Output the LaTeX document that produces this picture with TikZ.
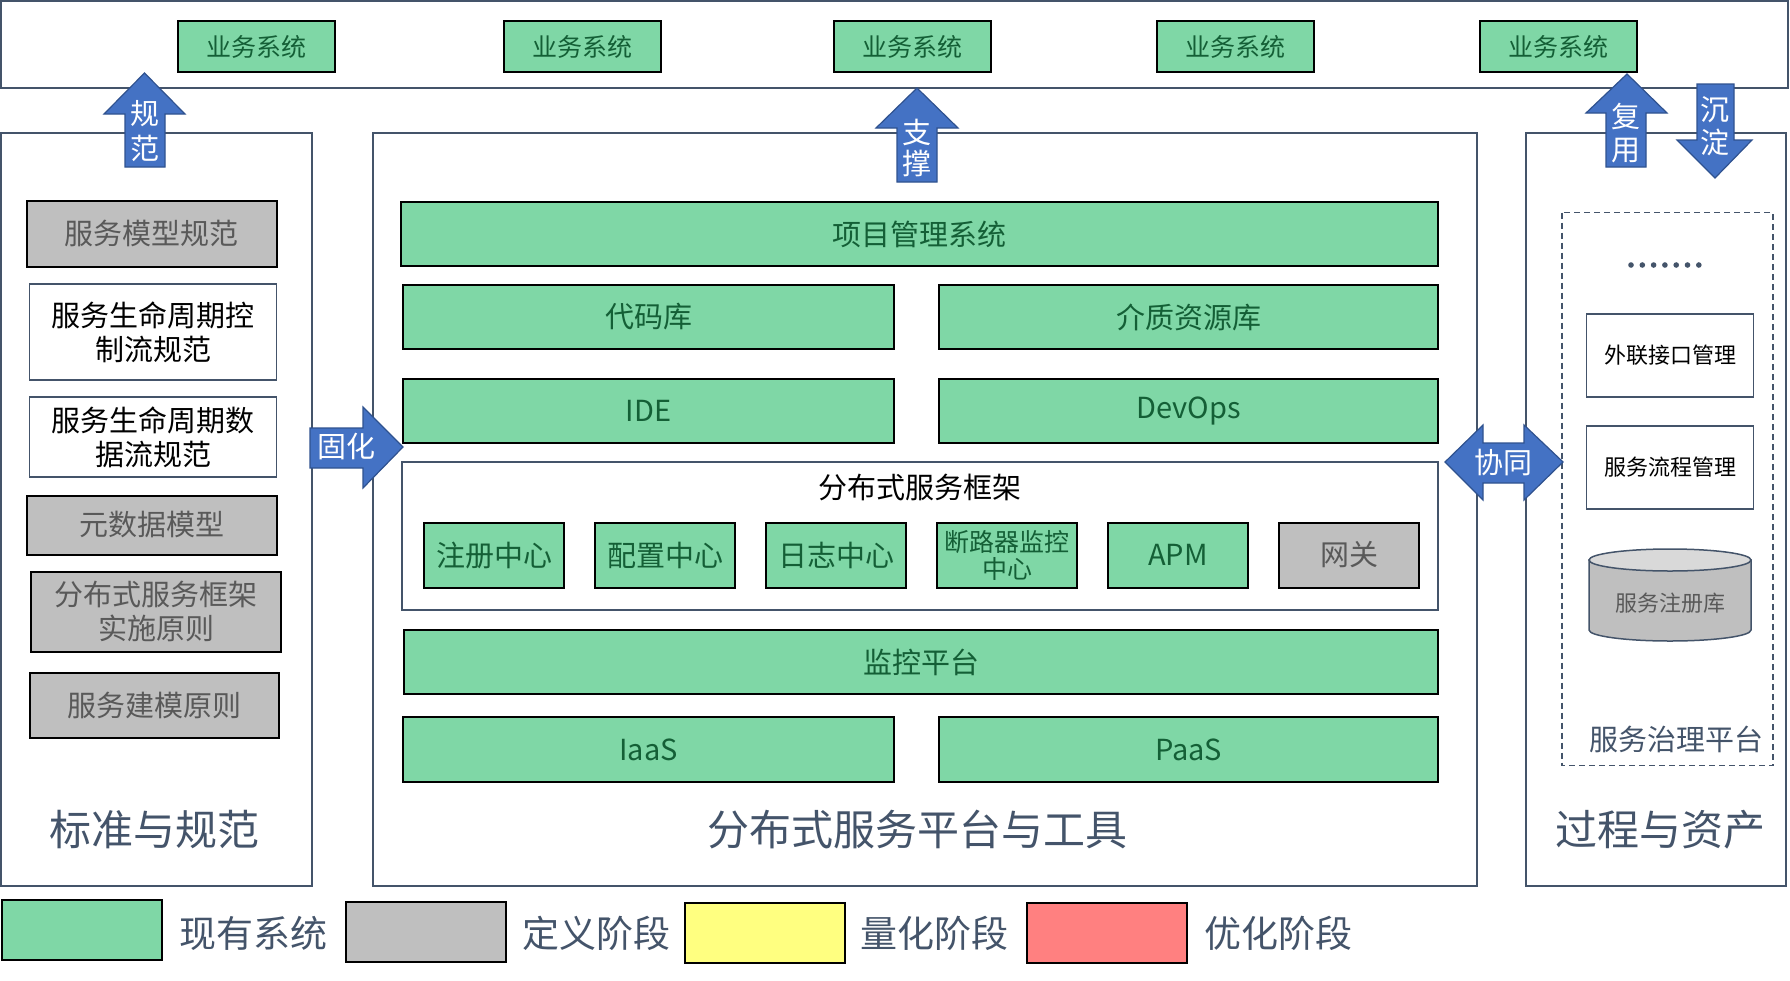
\documentclass[tikz,border=0pt]{standalone}
\usepackage{fontspec}
\setmainfont{Noto Sans CJK SC}

\definecolor{sysgreen}{HTML}{7FD7A6}
\definecolor{sysgreentext}{HTML}{145F36}
\definecolor{defgray}{HTML}{BFBFBF}
\definecolor{defgraytext}{HTML}{595959}
\definecolor{slate}{HTML}{44546A}
\definecolor{arrowblue}{HTML}{4472C4}
\definecolor{arrowedge}{HTML}{2F528F}
\definecolor{quantyellow}{HTML}{FFFF80}
\definecolor{optred}{HTML}{FF8080}
\definecolor{cyltop}{HTML}{D9D9D9}

\tikzset{
  sysbox/.style={draw=black, line width=2pt, fill=sysgreen, text=sysgreentext, inner sep=0pt, align=center, font=\fontsize{29}{34}\selectfont},
  defbox/.style={draw=black, line width=2pt, fill=defgray, text=defgraytext, inner sep=0pt, align=center, font=\fontsize{29}{34}\selectfont},
  specbox/.style={draw=slate, line width=1.5pt, fill=white, text=black, inner sep=0pt, align=center, font=\fontsize{29}{34}\selectfont},
  panel/.style={draw=slate, line width=2pt},
  paneltitle/.style={text=slate, font=\fontsize{42}{50}\selectfont},
  blockarrow/.style={fill=arrowblue, draw=arrowedge, line width=1.2pt},
  arrowtext/.style={text=white, align=center, inner sep=0pt, font=\fontsize{29}{34}\selectfont},
  legendbox/.style={draw=black, line width=2pt, minimum width=160pt, minimum height=60pt},
  legendtext/.style={text=slate, font=\fontsize{37}{44}\selectfont},
}

\begin{document}
\begin{tikzpicture}[x=1pt,y=-1pt]
  \useasboundingbox (0,0) rectangle (1790,980);

  % frames
  \draw[panel] (1,1) rectangle (1788,88);
  \draw[panel] (1,133) rectangle (312,886);
  \draw[panel] (373,133) rectangle (1477,886);
  \draw[panel] (1526,133) rectangle (1786,886);

  % business systems on top
  \foreach \bx [count=\i] in {256.5,582,912,1235,1558}
    \node[sysbox, minimum width=157pt, minimum height=51pt, font=\fontsize{25}{30}\selectfont] (biz\i) at (\bx,46.5) {业务系统};

  % standards
  \node[defbox, minimum width=250pt, minimum height=66pt] (modelspec) at (151.7,233.6) {服务模型规范};
  \node[specbox, minimum width=247pt, minimum height=96pt] (ctrlspec) at (153.2,331.8) {服务生命周期控\\制流规范};
  \node[specbox, minimum width=247pt, minimum height=80pt] (dataspec) at (153.2,437) {服务生命周期数\\据流规范};
  \node[defbox, minimum width=250pt, minimum height=59pt] (metamodel) at (152,525) {元数据模型};
  \node[defbox, minimum width=250pt, minimum height=80pt] (frameprinc) at (156,611.6) {分布式服务框架\\实施原则};
  \node[defbox, minimum width=249pt, minimum height=65pt] (modelprinc) at (154.5,705) {服务建模原则};
  \node[paneltitle] (stdtitle) at (154,830) {标准与规范};

  % platform and tools
  \node[sysbox, minimum width=1037pt, minimum height=64pt] (projmgmt) at (919.5,234) {项目管理系统};
  \node[sysbox, minimum width=491pt, minimum height=64pt] (coderepo) at (648.5,317) {代码库};
  \node[sysbox, minimum width=499pt, minimum height=64pt] (mediarepo) at (1188.5,317) {介质资源库};
  \node[sysbox, minimum width=491pt, minimum height=64pt] (ide) at (648.5,411) {IDE};
  \node[sysbox, minimum width=499pt, minimum height=64pt] (devops) at (1188.5,411) {DevOps};

  \draw[panel, line width=1.5pt] (402,462) rectangle (1438,610);
  \node[text=black, font=\fontsize{29}{34}\selectfont] (fwtitle) at (920,487) {分布式服务框架};
  \node[sysbox, minimum width=140pt, minimum height=65pt] (registry) at (494,555) {注册中心};
  \node[sysbox, minimum width=140pt, minimum height=65pt] (config) at (665,555) {配置中心};
  \node[sysbox, minimum width=140pt, minimum height=65pt] (logging) at (836,555) {日志中心};
  \node[sysbox, minimum width=140pt, minimum height=65pt, font=\fontsize{25}{27}\selectfont] (breaker) at (1007,555) {断路器监控\\中心};
  \node[sysbox, minimum width=140pt, minimum height=65pt] (apm) at (1178,555) {APM};
  \node[defbox, minimum width=140pt, minimum height=65pt] (gateway) at (1349,555) {网关};

  \node[sysbox, minimum width=1034pt, minimum height=64pt] (monitor) at (921,662) {监控平台};
  \node[sysbox, minimum width=491pt, minimum height=65pt] (iaas) at (648.5,749.5) {IaaS};
  \node[sysbox, minimum width=499pt, minimum height=65pt] (paas) at (1188.5,749.5) {PaaS};
  \node[paneltitle] (tooltitle) at (917.5,830) {分布式服务平台与工具};

  % process and assets
  \draw[slate, line width=1.5pt, dash pattern=on 6pt off 4pt] (1562,212.5) rectangle (1773,765.5);
  \foreach \k in {0,...,6}
    \fill[slate] (1631+11.3*\k,265) circle (2.8pt);
  \node[specbox, minimum width=167pt, minimum height=83pt, font=\fontsize{22}{26}\selectfont] (extif) at (1670,355.5) {外联接口管理};
  \node[specbox, minimum width=167pt, minimum height=83pt, font=\fontsize{22}{26}\selectfont] (flowmgmt) at (1670,467.5) {服务流程管理};
  \filldraw[fill=defgray, draw=slate, line width=1.5pt] (1589,560) -- (1589,630) arc[start angle=180, end angle=0, x radius=81, y radius=11] -- (1751,560) -- cycle;
  \filldraw[fill=cyltop, draw=slate, line width=1.5pt] (1670,560) ellipse[x radius=81, y radius=11];
  \node[text=defgraytext, font=\fontsize{22}{26}\selectfont] (svcreg) at (1670,603) {服务注册库};
  \node[text=slate, font=\fontsize{29}{34}\selectfont] (govtitle) at (1676,739) {服务治理平台};
  \node[paneltitle] (proctitle) at (1660,830) {过程与资产};

  % block arrows
  \draw[blockarrow] (125,167) -- (125,114) -- (104,114) -- (144.5,73) -- (185,114) -- (165,114) -- (165,167) -- cycle;
  \node[arrowtext, font=\fontsize{29}{35}\selectfont] (guifan) at (145,131) {规\\范};
  \draw[blockarrow] (897,182) -- (897,128) -- (876,128) -- (917,88) -- (958,128) -- (937,128) -- (937,182) -- cycle;
  \node[arrowtext, font=\fontsize{29}{31}\selectfont] (zhicheng) at (917,148) {支\\撑};
  \draw[blockarrow] (1606,167) -- (1606,113) -- (1586,113) -- (1627,74) -- (1667,113) -- (1646,113) -- (1646,167) -- cycle;
  \node[arrowtext, font=\fontsize{29}{33}\selectfont] (fuyong) at (1626,133.5) {复\\用};
  \draw[blockarrow] (1697,84) -- (1734,84) -- (1734,140) -- (1752,140) -- (1715,178) -- (1677,140) -- (1697,140) -- cycle;
  \node[arrowtext, font=\fontsize{29}{33}\selectfont] (chendian) at (1715,126.5) {沉\\淀};
  \draw[blockarrow] (310,428) -- (363,428) -- (363,407) -- (403,447) -- (363,488) -- (363,468) -- (310,468) -- cycle;
  \node[arrowtext] (guhua) at (346,447) {固化};
  \draw[blockarrow] (1445,462) -- (1483,425) -- (1483,443) -- (1524,443) -- (1524,425) -- (1563,462) -- (1524,500) -- (1524,483) -- (1483,483) -- (1483,500) -- cycle;
  \node[arrowtext] (xietong) at (1503,463) {协同};

  % legend
  \node[legendbox, fill=sysgreen] (legexist) at (82,930) {};
  \node[legendtext] (legexisttext) at (253,933) {现有系统};
  \node[legendbox, fill=defgray] (legdef) at (426,931.5) {};
  \node[legendtext] (legdeftext) at (596.5,933) {定义阶段};
  \node[legendbox, fill=quantyellow] (legquant) at (764.5,933) {};
  \node[legendtext] (legquanttext) at (934.5,933) {量化阶段};
  \node[legendbox, fill=optred] (legopt) at (1107,933) {};
  \node[legendtext] (legopttext) at (1278.5,933) {优化阶段};
\end{tikzpicture}
\end{document}
